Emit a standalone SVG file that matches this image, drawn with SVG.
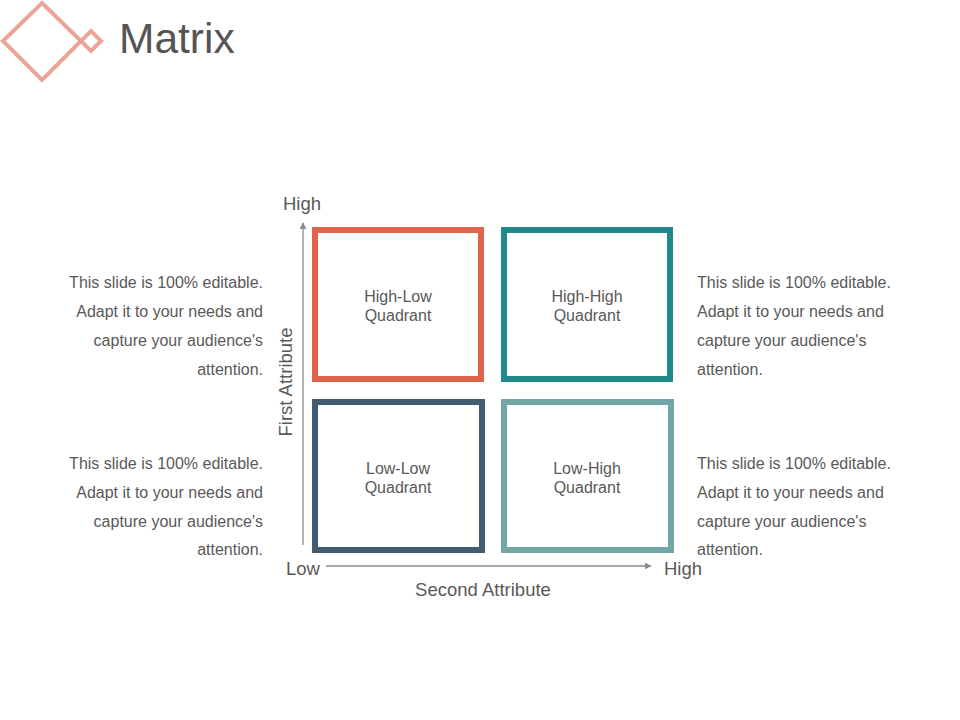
<svg xmlns="http://www.w3.org/2000/svg" width="960" height="720" viewBox="0 0 960 720">
<defs>
<style>
text{font-family:"Liberation Sans",Arial,sans-serif;fill:#595959}
.para{font-size:16px}
.q{font-size:16px;text-anchor:middle}
.ax{font-size:18.5px}
.box{fill:none;stroke-width:6}
.axis{stroke:#8a8a8a;stroke-width:1.3;fill:none}
</style>
<marker id="arr" viewBox="0 0 10 10" refX="9" refY="5" markerWidth="7" markerHeight="7" markerUnits="userSpaceOnUse" orient="auto">
<path d="M0,0 L10,5 L0,10 z" fill="#8a8a8a"/>
</marker>
</defs>
<rect width="960" height="720" fill="#ffffff"/>
<g id="logo" fill="none" stroke="#EBA596" stroke-width="4">
<path d="M42,3 L81,41 L42,80 L3,41 Z"/>
<path d="M91,31 L101,41 L91,51 L81,41 Z"/>
</g>
<text id="title" x="119" y="53" style="font-size:42.5px;fill:#555555">Matrix</text>
<g id="connectors">
<line class="axis" x1="303" y1="545" x2="303" y2="223" marker-end="url(#arr)"/>
<line class="axis" x1="326" y1="566" x2="651" y2="566" marker-end="url(#arr)"/>
</g>
<g id="high-low">
<rect class="box" x="315" y="230" width="166" height="149" stroke="#E0644B"/>
<text class="q" x="398" y="302">High-Low</text>
<text class="q" x="398" y="321">Quadrant</text>
</g>
<g id="high-high">
<rect class="box" x="504" y="230" width="166" height="149" stroke="#22898A"/>
<text class="q" x="587" y="302">High-High</text>
<text class="q" x="587" y="321">Quadrant</text>
</g>
<g id="low-low">
<rect class="box" x="315" y="402" width="167" height="148" stroke="#425C72"/>
<text class="q" x="398" y="474">Low-Low</text>
<text class="q" x="398" y="493">Quadrant</text>
</g>
<g id="low-high">
<rect class="box" x="504" y="402" width="167" height="148" stroke="#70A6A6"/>
<text class="q" x="587" y="474">Low-High</text>
<text class="q" x="587" y="493">Quadrant</text>
</g>
<g id="axis-labels">
<text class="ax" x="283" y="210">High</text>
<text class="ax" x="286" y="575">Low</text>
<text class="ax" x="664" y="575">High</text>
<text class="ax" x="483" y="596" text-anchor="middle">Second Attribute</text>
<text class="ax" transform="translate(292,382) rotate(-90)" text-anchor="middle">First Attribute</text>
</g>
<g id="text-top-left">
<text class="para" x="263" y="288" text-anchor="end">This slide is 100% editable.</text>
<text class="para" x="263" y="317" text-anchor="end">Adapt it to your needs and</text>
<text class="para" x="263" y="346" text-anchor="end">capture your audience's</text>
<text class="para" x="263" y="375" text-anchor="end">attention.</text>
</g>
<g id="text-bottom-left">
<text class="para" x="263" y="469" text-anchor="end">This slide is 100% editable.</text>
<text class="para" x="263" y="498" text-anchor="end">Adapt it to your needs and</text>
<text class="para" x="263" y="527" text-anchor="end">capture your audience's</text>
<text class="para" x="263" y="555" text-anchor="end">attention.</text>
</g>
<g id="text-top-right">
<text class="para" x="697" y="288">This slide is 100% editable.</text>
<text class="para" x="697" y="317">Adapt it to your needs and</text>
<text class="para" x="697" y="346">capture your audience's</text>
<text class="para" x="697" y="375">attention.</text>
</g>
<g id="text-bottom-right">
<text class="para" x="697" y="469">This slide is 100% editable.</text>
<text class="para" x="697" y="498">Adapt it to your needs and</text>
<text class="para" x="697" y="527">capture your audience's</text>
<text class="para" x="697" y="555">attention.</text>
</g>
</svg>
